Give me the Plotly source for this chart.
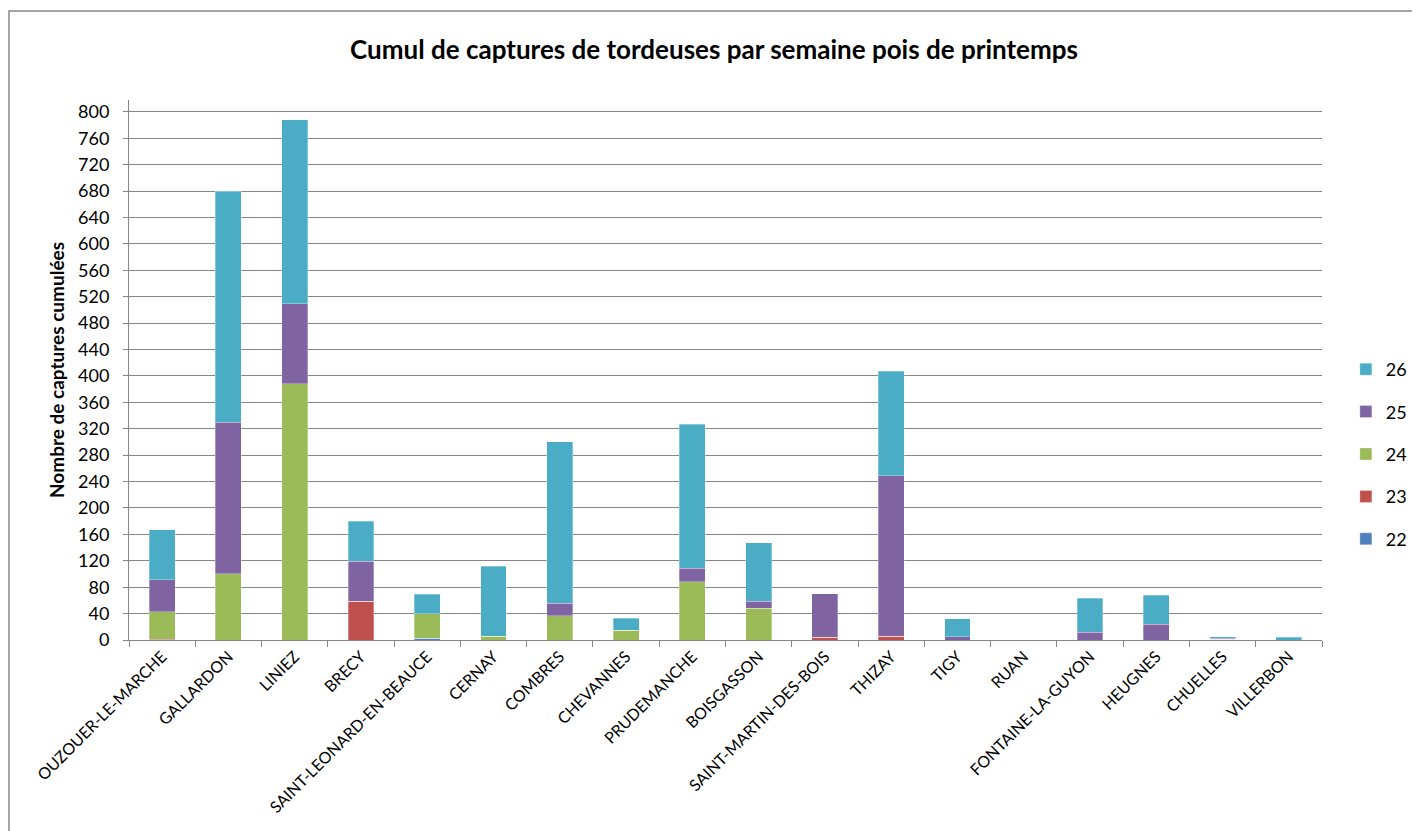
import plotly.graph_objects as go

sites = ["OUZOUER-LE-MARCHE", "GALLARDON", "LINIEZ", "BRECY", "SAINT-LEONARD-EN-BEAUCE",
         "CERNAY", "COMBRES", "CHEVANNES", "PRUDEMANCHE", "BOISGASSON",
         "SAINT-MARTIN-DES-BOIS", "THIZAY", "TIGY", "RUAN", "FONTAINE-LA-GUYON",
         "HEUGNES", "CHUELLES", "VILLERBON"]

s22 = [0, 0, 0, 0, 3, 0, 0, 0, 0, 0, 0, 0, 0, 0, 0, 0, 1, 0]
s23 = [1, 0, 0, 59, 0, 0, 0, 0, 0, 0, 4, 6, 0, 0, 0, 0, 0, 0]
s24 = [42, 100, 388, 0, 37, 6, 37, 15, 88, 48, 0, 0, 0, 0, 0, 0, 0, 0]
s25 = [48, 230, 121, 60, 0, 0, 19, 0, 21, 11, 66, 243, 5, 0, 12, 24, 2, 0]
s26 = [76, 350, 279, 61, 29, 106, 244, 18, 218, 88, 0, 158, 27, 0, 51, 44, 2, 4]

series = [("22", s22, "#4F81BD"), ("23", s23, "#C0504D"), ("24", s24, "#9BBB59"),
          ("25", s25, "#8064A2"), ("26", s26, "#4BACC6")]

yticks = list(range(0, 801, 40))

FONT = "Lato, 'Open Sans', sans-serif"
GRID = "#868686"

# page body adds an 8px offset; figure is sized/positioned to compensate
W, H = 1412, 823
L, T, B, R = 121, 92, 191, 98
PW = W - L - R
PH = H - T - B

fig = go.Figure()
for i, (name, vals, col) in enumerate(series):
    fig.add_trace(go.Bar(
        x=sites, y=vals, name=name, legendgroup=name, legendrank=len(series) - i,
        marker=dict(color=col, line=dict(color="rgba(255,255,255,0.6)", width=0.5)),
    ))

fig.update_layout(
    barmode="stack",
    bargap=0.61,
    width=W, height=H,
    paper_bgcolor="white", plot_bgcolor="white",
    margin=dict(l=L, r=R, t=T, b=B, autoexpand=False),
    font=dict(family=FONT, color="black"),
    title=dict(text="<b>Cumul de captures de tordeuses par semaine pois de printemps</b>",
               x=0.5, xanchor="center", y=1 - 42 / H, yanchor="middle",
               font=dict(size=26, family=FONT, color="black")),
    legend=dict(traceorder="grouped", tracegroupgap=16,
                x=1.02, xanchor="left", y=(PH - (446 - T)) / PH, yanchor="middle",
                font=dict(size=18, family=FONT), itemwidth=30),
    showlegend=True,
)

fig.update_xaxes(
    type="category", tickangle=-45, tickson="boundaries", automargin=False,
    ticks="outside", ticklen=6, tickcolor=GRID,
    showline=True, linecolor=GRID, linewidth=1,
    showgrid=False, tickfont=dict(size=16, family=FONT),
)
fig.update_yaxes(
    range=[0, 818], tickmode="array", tickvals=yticks, automargin=False,
    ticks="outside", ticklen=5, tickcolor=GRID, ticklabelstandoff=10,
    showline=True, linecolor=GRID, linewidth=1,
    showgrid=True, gridcolor=GRID, gridwidth=1,
    tickfont=dict(size=18, family=FONT),
    title=dict(text="<b>Nombre de captures cumulées</b>", font=dict(size=19, family=FONT),
               standoff=8),
)

# outer chart border
fig.add_shape(type="rect", xref="paper", yref="paper",
              x0=(1 - L) / PW, x1=1.2, y0=-0.5, y1=(PH + T - 3) / PH,
              line=dict(color=GRID, width=1.5), fillcolor="rgba(0,0,0,0)", layer="below")

fig.write_html("out.html")
